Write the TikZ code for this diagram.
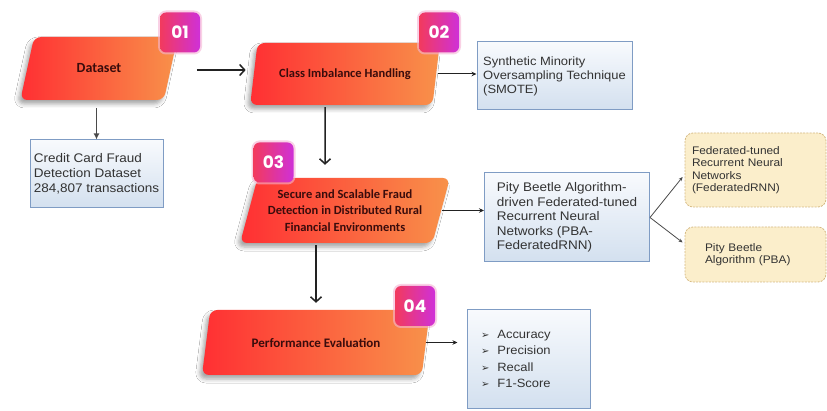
\documentclass[tikz,border=0pt]{standalone}
\usepackage{fontspec}
\setmainfont{Liberation Sans}
\newfontfamily\boxfont[FakeStretch=1.08]{Liberation Sans}
\newfontfamily\stepfont{Carlito}
\newfontfamily\badgefont{Poppins}
\newfontfamily\symfont{DejaVu Sans}
\usetikzlibrary{shapes.geometric,arrows.meta,shadows.blur,calc}
\definecolor{stepL}{HTML}{FF2F33}
\definecolor{stepR}{HTML}{F8924A}
\definecolor{stepText}{HTML}{3A0C0C}
\definecolor{badgeL}{HTML}{F23A5E}
\definecolor{badgeR}{HTML}{CF30D8}
\definecolor{badgeGlow}{HTML}{F5B3D4}
\definecolor{boxLine}{HTML}{7F9CC4}
\definecolor{boxTop}{HTML}{F8FAFD}
\definecolor{boxBot}{HTML}{D3E0EF}
\definecolor{yelFill}{HTML}{FBEECB}
\definecolor{yelLine}{HTML}{D6BA84}
\definecolor{arrowDark}{HTML}{222222}
\definecolor{arrowGray}{HTML}{4A4A4A}
\tikzset{
  stepbox/.style={trapezium, trapezium left angle=72, trapezium right angle=108,
    trapezium stretches=true, rounded corners=7pt, left color=stepL, right color=stepR,
    draw=none, text=stepText, align=center, inner xsep=2pt,
    blur shadow={shadow xshift=-3pt, shadow yshift=-4pt, shadow opacity=35, shadow blur radius=4pt}},
  badgebox/.style={rectangle, rounded corners=6pt, minimum width=40pt, minimum height=40pt,
    left color=badgeL, right color=badgeR, text=white,
    font=\badgefont\bfseries\fontsize{17}{17}\selectfont,
    preaction={draw=badgeGlow, line width=4pt, opacity=0.6}},
  bbox/.style={rectangle, draw=boxLine, line width=1pt, top color=boxTop, bottom color=boxBot,
    align=left, text=black!80, font=\boxfont\fontsize{12.5}{15}\selectfont},
  ybox/.style={rectangle, rounded corners=8pt, draw=yelLine, line width=0.8pt,
    dash pattern=on 2pt off 1.2pt, fill=yelFill, align=left, text=black!80,
    font=\boxfont\fontsize{11}{12.4}\selectfont},
  flow/.style={draw=arrowDark, line width=1.5pt, -{Straight Barb[length=5pt,width=11pt]}},
  thinarr/.style={draw=arrowDark, line width=1pt, -{Stealth[length=5pt,width=4.5pt]}},
  downarr/.style={draw=arrowGray, line width=1.3pt, -{Latex[length=6pt,width=6pt]}},
  branch/.style={draw=arrowGray, line width=0.8pt, -{Stealth[length=4pt,width=3.5pt]}},
}
\newcommand{\blt}{{\symfont\fontsize{10}{10}\selectfont ➢}\ \ }
\begin{document}
\begin{tikzpicture}[x=1pt,y=-1pt]
\useasboundingbox (0,0) rectangle (827,411);
\fill[white] (0,0) rectangle (827,411);

% step shapes
\node[stepbox, minimum width=158pt, minimum height=63pt,
  font=\stepfont\bfseries\fontsize{14}{16}\selectfont] (dataset) at (99,68.5) {Dataset};
\node[stepbox, minimum width=190pt, minimum height=62pt,
  font=\stepfont\bfseries\fontsize{12.5}{15}\selectfont] (class) at (345,74) {Class Imbalance Handling};
\node[stepbox, minimum width=210pt, minimum height=65pt,
  font=\stepfont\bfseries\fontsize{12.5}{16.5}\selectfont] (secure) at (345,210.5)
  {Secure and Scalable Fraud\\Detection in Distributed Rural\\Financial Environments};
\node[stepbox, minimum width=228pt, minimum height=65pt,
  font=\stepfont\bfseries\fontsize{13}{16}\selectfont] (perf) at (316,342.5) {Performance Evaluation};

% badges
\node[badgebox] (b1) at (180,32.5) {01};
\node[badgebox] (b2) at (439,32.5) {02};
\node[badgebox] (b3) at (273.5,162.5) {03};
\node[badgebox] (b4) at (415,306) {04};

% blue boxes
\node[bbox, minimum width=133pt, minimum height=68pt] (dsbox) at (96.5,174)
  {Credit Card Fraud\\Detection Dataset\\284,807 transactions};
\node[bbox, minimum width=155pt, minimum height=68pt,
  font=\boxfont\fontsize{12}{14}\selectfont] (smote) at (554.5,76)
  {Synthetic Minority\\Oversampling Technique\\(SMOTE)};
\node[bbox, minimum width=165pt, minimum height=89pt,
  font=\boxfont\fontsize{12.5}{14.6}\selectfont] (pba) at (567,217.5)
  {Pity Beetle Algorithm-\\driven Federated-tuned\\Recurrent Neural\\Networks (PBA-\\FederatedRNN)};
\node[bbox, minimum height=98pt, text width=95pt, inner xsep=14pt,
  font=\boxfont\fontsize{12}{16.5}\selectfont] (metrics) at (528.5,359)
  {\blt Accuracy\\\blt Precision\\\blt Recall\\\blt F1-Score};

% yellow boxes
\node[ybox, minimum height=74pt, text width=127pt, inner xsep=7pt] (fed) at (755.5,170)
  {Federated-tuned\\Recurrent Neural\\Networks\\(FederatedRNN)};
\node[ybox, minimum height=55pt, text width=101pt, inner xsep=20pt] (pbay) at (755.5,254.5)
  {Pity Beetle\\Algorithm (PBA)};

% connectors
\coordinate (a1s) at ($(dataset.east)+(26,1.5)$);
\draw[flow, shorten >=8pt] (a1s) -- (a1s -| class.west);
\draw[downarr] ($(dataset.south -| dsbox.north)+(0,8)$) -- (dsbox.north);
\draw[thinarr, shorten <=2pt] (class.east) -- (class.east -| smote.west);
\draw[flow] ($(class.south)+(-20,2)$) -- ($(secure.north)+(-20,-13)$);
\draw[thinarr, shorten <=1pt] (secure.east) -- (secure.east -| pba.west);
\draw[flow] ($(perf.north |- secure.south)+(0,2)$) -- ($(perf.north)+(0,-7)$);
\draw[thinarr, shorten >=9pt] (perf.east) -- (perf.east -| metrics.west);
\draw[branch] (pba.east) -- ($(fed.west)+(-2,7)$);
\draw[branch] (pba.east) -- ($(pbay.west)+(-2,-12)$);
\end{tikzpicture}
\end{document}
